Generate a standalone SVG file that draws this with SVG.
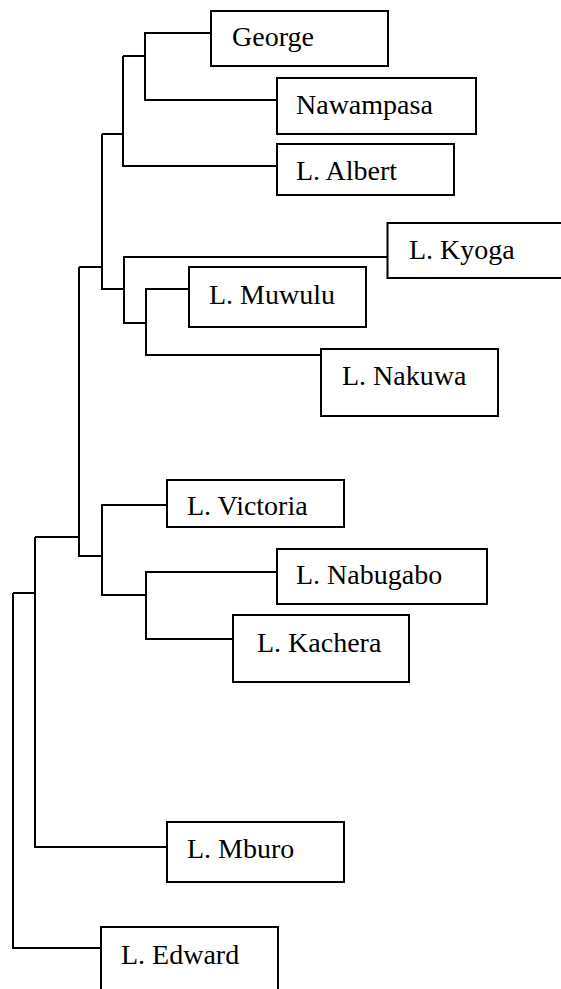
<svg xmlns="http://www.w3.org/2000/svg" width="561" height="989" viewBox="0 0 561 989">
<style>
.box{fill:#fff;stroke:#000;stroke-width:2}
.lbl{font-family:"Liberation Serif","Times New Roman",serif;font-size:28px;fill:#000}
.con{fill:none;stroke:#000;stroke-width:2}
</style>
<rect width="561" height="989" fill="#fff"/>
<g id="connectors" class="con">
<path d="M211,33 H145 V100 H277"/>
<path d="M123,56 H145"/>
<path d="M123,56 V166 H277"/>
<path d="M102,134 H123"/>
<path d="M102,134 V289 H124"/>
<path d="M79,267 H102"/>
<path d="M387.5,257 H124 V323 H146"/>
<path d="M189,289 H146 V355 H321"/>
<path d="M79,267 V556 H102"/>
<path d="M35,537 H79"/>
<path d="M167,505 H102 V595 H146"/>
<path d="M277,572 H146 V639 H233"/>
<path d="M35,537 V847 H167"/>
<path d="M13,593 H35"/>
<path d="M13,593 V948 H101"/>
</g>
<g id="george"><rect class="box" x="211" y="11" width="177" height="55"/><text class="lbl" x="232" y="46">George</text></g>
<g id="nawampasa"><rect class="box" x="277" y="78" width="199" height="56"/><text class="lbl" x="296" y="114">Nawampasa</text></g>
<g id="albert"><rect class="box" x="277" y="144" width="177" height="51"/><text class="lbl" x="296" y="180">L. Albert</text></g>
<g id="kyoga"><rect class="box" x="387.5" y="223" width="180" height="55"/><text class="lbl" x="409" y="259">L. Kyoga</text></g>
<g id="muwulu"><rect class="box" x="189" y="267" width="177" height="60"/><text class="lbl" x="209" y="304">L. Muwulu</text></g>
<g id="nakuwa"><rect class="box" x="321" y="349" width="177" height="67"/><text class="lbl" x="342" y="385">L. Nakuwa</text></g>
<g id="victoria"><rect class="box" x="167" y="480" width="177" height="47"/><text class="lbl" x="187" y="515">L. Victoria</text></g>
<g id="nabugabo"><rect class="box" x="277" y="549" width="210" height="55"/><text class="lbl" x="296" y="584">L. Nabugabo</text></g>
<g id="kachera"><rect class="box" x="233" y="615" width="176" height="67"/><text class="lbl" x="257" y="652">L. Kachera</text></g>
<g id="mburo"><rect class="box" x="167" y="822" width="177" height="60"/><text class="lbl" x="187" y="858">L. Mburo</text></g>
<g id="edward"><rect class="box" x="101" y="927" width="177" height="70"/><text class="lbl" x="121" y="964">L. Edward</text></g>
</svg>
